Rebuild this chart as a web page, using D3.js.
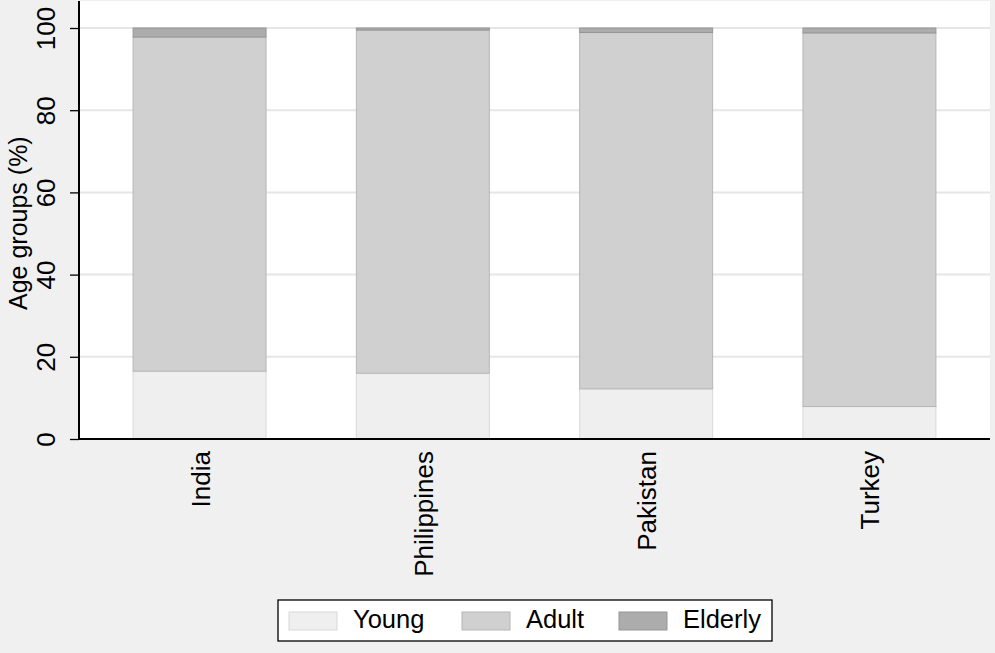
<!DOCTYPE html>
<html>
<head>
<meta charset="utf-8">
<script src="https://cdn.jsdelivr.net/npm/d3@7"></script>
<style>
  html, body { margin: 0; padding: 0; background: #f0f0f0; }
  svg { display: block; }
  text { font-family: "Liberation Sans", Arial, sans-serif; fill: #000; }
</style>
</head>
<body>
<svg id="chart" width="995" height="653"></svg>
<script>
const countries = ["India", "Philippines", "Pakistan", "Turkey"];
const young   = [16.5, 16.0, 12.2, 7.9];
const adult   = [81.3, 83.5, 86.7, 90.9];
const elderly = [2.2, 0.5, 1.1, 1.2];
const seriesNames = ["Young", "Adult", "Elderly"];
const yTicks = [0, 20, 40, 60, 80, 100];
const yTitle = "Age groups (%)";

const fills = { Young: "#efefef", Adult: "#d0d0d0", Elderly: "#acacac" };
const strokes = { Young: "#d8d8d8", Adult: "#b6b6b6", Elderly: "#969696" };

const rows = countries.map((c, i) => ({ country: c, Young: young[i], Adult: adult[i], Elderly: elderly[i] }));
const stacked = d3.stack().keys(seriesNames)(rows);

const svg = d3.select("#chart");
const plot = { left: 79, right: 990, top: 1, bottom: 439 };

const x = d3.scaleBand().domain(countries).range([plot.left, plot.right]).paddingInner(0.4).paddingOuter(0.24);
const y = d3.scaleLinear().domain([0, 100]).range([plot.bottom, 28]);

// plot area
svg.append("rect").attr("x", plot.left).attr("y", plot.top)
  .attr("width", plot.right - plot.left).attr("height", plot.bottom - plot.top)
  .attr("fill", "#ffffff");

// gridlines
svg.append("g").selectAll("line").data(yTicks.filter(d => d > 0)).join("line")
  .attr("x1", plot.left).attr("x2", plot.right)
  .attr("y1", d => y(d)).attr("y2", d => y(d))
  .attr("stroke", "#e6e6e6").attr("stroke-width", 2);

// bars
svg.append("g").selectAll("g").data(stacked).join("g")
  .attr("fill", d => fills[d.key]).attr("stroke", d => strokes[d.key])
  .selectAll("rect").data(d => d).join("rect")
  .attr("x", d => x(d.data.country) + 0.5)
  .attr("width", x.bandwidth() - 1)
  .attr("y", d => y(d[1]))
  .attr("height", d => y(d[0]) - y(d[1]))
  .attr("stroke-width", 1);

// y axis
const yAxis = svg.append("g").attr("transform", `translate(${plot.left},0)`)
  .call(d3.axisLeft(y).tickValues(yTicks).tickSize(9).tickFormat(d3.format("d")));
yAxis.select(".domain").remove();
yAxis.selectAll(".tick line").attr("stroke", "#000").attr("stroke-width", 1.3);
yAxis.selectAll(".tick text")
  .attr("font-size", 26)
  .attr("text-anchor", "middle")
  .attr("x", null).attr("dy", null)
  .attr("transform", "translate(-24,0) rotate(-90)")
  .attr("y", 0)
  .style("font-family", "'Liberation Sans', Arial, sans-serif");
svg.append("line").attr("x1", plot.left).attr("x2", plot.left)
  .attr("y1", plot.top).attr("y2", plot.bottom + 1)
  .attr("stroke", "#000").attr("stroke-width", 2);

// x axis
const xAxis = svg.append("g").attr("transform", `translate(0,${plot.bottom})`)
  .call(d3.axisBottom(x).tickSize(0));
xAxis.select(".domain").remove();
xAxis.selectAll(".tick text")
  .attr("font-size", 26)
  .attr("text-anchor", "end")
  .attr("dy", null).attr("y", null)
  .attr("transform", "translate(10,12) rotate(-90)")
  .style("font-family", "'Liberation Sans', Arial, sans-serif");
svg.append("line").attr("x1", plot.left - 1).attr("x2", plot.right)
  .attr("y1", plot.bottom).attr("y2", plot.bottom)
  .attr("stroke", "#000").attr("stroke-width", 2);

// y title
svg.append("text")
  .attr("transform", `translate(27,310) rotate(-90)`)
  .attr("text-anchor", "start")
  .attr("font-size", 25)
  .text(yTitle);

// legend
const legend = svg.append("g");
legend.append("rect").attr("x", 278).attr("y", 600).attr("width", 494).attr("height", 41)
  .attr("fill", "#fff").attr("stroke", "#000").attr("stroke-width", 1.3);
const legX = [289, 462, 619];
const items = legend.selectAll("g").data(seriesNames).join("g")
  .attr("transform", (d, i) => `translate(${legX[i]},0)`);
items.append("rect").attr("x", 0).attr("y", 612).attr("width", 48).attr("height", 18)
  .attr("fill", d => fills[d]).attr("stroke", d => strokes[d]);
items.append("text").attr("x", 64).attr("y", 628).attr("font-size", 25.5).text(d => d);
</script>
</body>
</html>
